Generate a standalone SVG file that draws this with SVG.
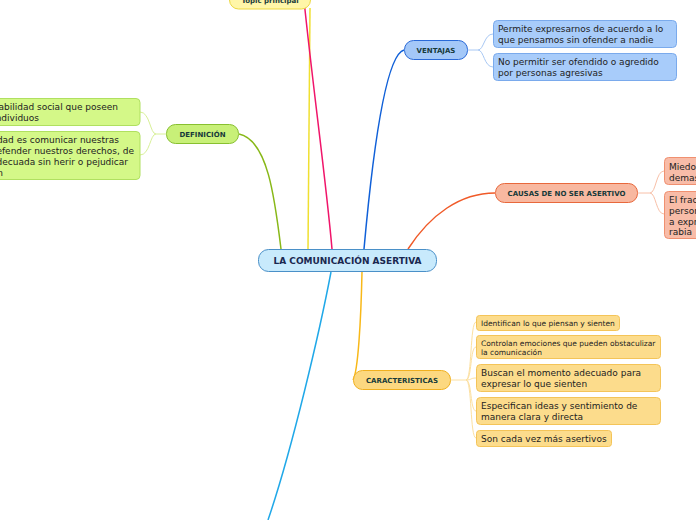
<svg xmlns="http://www.w3.org/2000/svg" width="696" height="520" viewBox="0 0 696 520">
<style>
.t{font-family:"DejaVu Sans","Liberation Sans",sans-serif;}
.h{font-size:7px;font-weight:bold;fill:#173a3a;text-anchor:middle;}
.c{font-size:9px;fill:#222;}
.s{font-size:7.5px;fill:#222;}
.ln{fill:none;stroke-width:1.5;}
.sub{fill:none;stroke-width:1;}
</style>
<rect width="696" height="520" fill="#fff"/>
<g id="connectors">
<path class="ln" stroke="#f0e030" d="M310,8 L308,249"/>
<path class="ln" stroke="#f0156a" d="M304,0 C312,80 326,180 332,249"/>
<path class="ln" stroke="#1060d8" d="M364,249 C372,160 385,55 404,50"/>
<path class="ln" stroke="#f05a28" d="M408,249 C430,215 460,193 495,193"/>
<path class="ln" stroke="#88b818" d="M281,249 C275,200 268,140 239,134"/>
<path class="ln" stroke="#f8b818" d="M362,272 C361,320 358,372 353,380"/>
<path class="ln" stroke="#20a8e8" d="M331,272 C320,330 292,450 268,520"/>
<g stroke="#a8c8f4" class="sub">
<path d="M468,50 L478,50 C484,50 484,34 493,34"/>
<path d="M478,50 C484,50 484,67 493,67"/>
</g>
<g stroke="#f8c0a8" class="sub">
<path d="M638,193 L650,193 C656,193 656,171 664,171"/>
<path d="M650,193 C656,193 656,214 664,214"/>
</g>
<g stroke="#d8f098" class="sub">
<path d="M166,134 L156,134 C150,134 150,112 140,112"/>
<path d="M156,134 C150,134 150,155 140,155"/>
</g>
<g stroke="#fce0a0" class="sub">
<path d="M451,380 L466,380 C472,380 470,322 476,322"/>
<path d="M466,380 C472,380 470,347 476,347"/>
<path d="M466,380 C472,380 470,378 476,378"/>
<path d="M466,380 C472,380 470,411 476,411"/>
<path d="M466,380 C472,380 470,438 476,438"/>
</g>
</g>
<g id="topic">
<rect x="229.5" y="-12" width="81" height="21" rx="9" fill="#fff6a8" stroke="#ecd840"/>
<text class="t h" x="270" y="3">Topic principal</text>
</g>
<g id="central">
<rect x="258.5" y="249.5" width="178" height="22" rx="10" fill="#c8eafc" stroke="#4a90c8"/>
<text class="t" x="347.5" y="264" font-size="9" font-weight="bold" fill="#1a2850" text-anchor="middle">LA COMUNICACIÓN ASERTIVA</text>
</g>
<g id="ventajas">
<rect x="404.5" y="40.5" width="63" height="19" rx="9" fill="#a4c8f8" stroke="#2a6ad8"/>
<text class="t h" x="436" y="52.5">VENTAJAS</text>
</g>
<g id="v1">
<rect x="493.5" y="20.5" width="183" height="27" rx="4" fill="#a8ccfa" stroke="#7aaaec"/>
<text class="t c" x="498" y="32">Permite expresarnos de acuerdo a lo</text>
<text class="t c" x="498" y="43">que pensamos sin ofender a nadie</text>
</g>
<g id="v2">
<rect x="493.5" y="53.5" width="183" height="27" rx="4" fill="#a8ccfa" stroke="#7aaaec"/>
<text class="t c" x="498" y="65">No permitir ser ofendido o agredido</text>
<text class="t c" x="498" y="76">por personas agresivas</text>
</g>
<g id="causas">
<rect x="495.5" y="183.5" width="142" height="19" rx="9" fill="#f8b8a0" stroke="#e8683c"/>
<text class="t h" x="566.5" y="195.5">CAUSAS DE NO SER ASERTIVO</text>
</g>
<g id="c1">
<rect x="664.5" y="157.5" width="50" height="27" rx="4" fill="#f8bca8" stroke="#f09070"/>
<text class="t c" x="669" y="170">Miedo</text>
<text class="t c" x="669" y="181">demas</text>
</g>
<g id="c2">
<rect x="664.5" y="191.5" width="50" height="47" rx="4" fill="#f8bca8" stroke="#f09070"/>
<text class="t c" x="669" y="203">El fraca</text>
<text class="t c" x="669" y="214">person</text>
<text class="t c" x="669" y="225">a expr</text>
<text class="t c" x="669" y="235">rabia</text>
</g>
<g id="definicion">
<rect x="166.5" y="124.5" width="72" height="19" rx="9" fill="#c8f078" stroke="#88c030"/>
<text class="t h" x="202.5" y="136.5">DEFINICIÓN</text>
</g>
<g id="d1">
<rect x="-10" y="98.5" width="150" height="27" rx="4" fill="#d4f888" stroke="#b0e060"/>
<text class="t c" x="118" y="110" text-anchor="end">abilidad social que poseen</text>
<text class="t c" x="39" y="121" text-anchor="end">ndividuos</text>
</g>
<g id="d2">
<rect x="-10" y="131.5" width="150" height="48" rx="4" fill="#d4f888" stroke="#b0e060"/>
<text class="t c" x="119" y="143" text-anchor="end">dad es comunicar nuestras</text>
<text class="t c" x="134" y="154" text-anchor="end">efender nuestros derechos, de</text>
<text class="t c" x="128" y="165" text-anchor="end">decuada sin herir o pejudicar</text>
<text class="t c" x="3" y="176" text-anchor="end">n</text>
</g>
<g id="caracteristicas">
<rect x="353.5" y="370.5" width="97" height="19" rx="9" fill="#fcd880" stroke="#f0b020"/>
<text class="t h" x="402" y="382.5">CARACTERISTICAS</text>
</g>
<g id="k1">
<rect x="476.5" y="315.5" width="143" height="15" rx="3" fill="#fcdc8c" stroke="#f4c458"/>
<text class="t s" x="481" y="326">Identifican lo que piensan y sienten</text>
</g>
<g id="k2">
<rect x="476.5" y="335.5" width="184" height="23" rx="3" fill="#fcdc8c" stroke="#f4c458"/>
<text class="t s" x="481" y="346">Controlan emociones que pueden obstaculizar</text>
<text class="t s" x="481" y="355">la comunicación</text>
</g>
<g id="k3">
<rect x="476.5" y="364.5" width="184" height="27" rx="4" fill="#fcdc8c" stroke="#f4c458"/>
<text class="t c" x="481" y="376">Buscan el momento adecuado para</text>
<text class="t c" x="481" y="387">expresar lo que sienten</text>
</g>
<g id="k4">
<rect x="476.5" y="397.5" width="184" height="27" rx="4" fill="#fcdc8c" stroke="#f4c458"/>
<text class="t c" x="481" y="409">Especifican ideas y sentimiento de</text>
<text class="t c" x="481" y="420">manera clara y directa</text>
</g>
<g id="k5">
<rect x="476.5" y="430.5" width="135" height="16" rx="3" fill="#fcdc8c" stroke="#f4c458"/>
<text class="t c" x="481" y="442">Son cada vez más asertivos</text>
</g>
</svg>
